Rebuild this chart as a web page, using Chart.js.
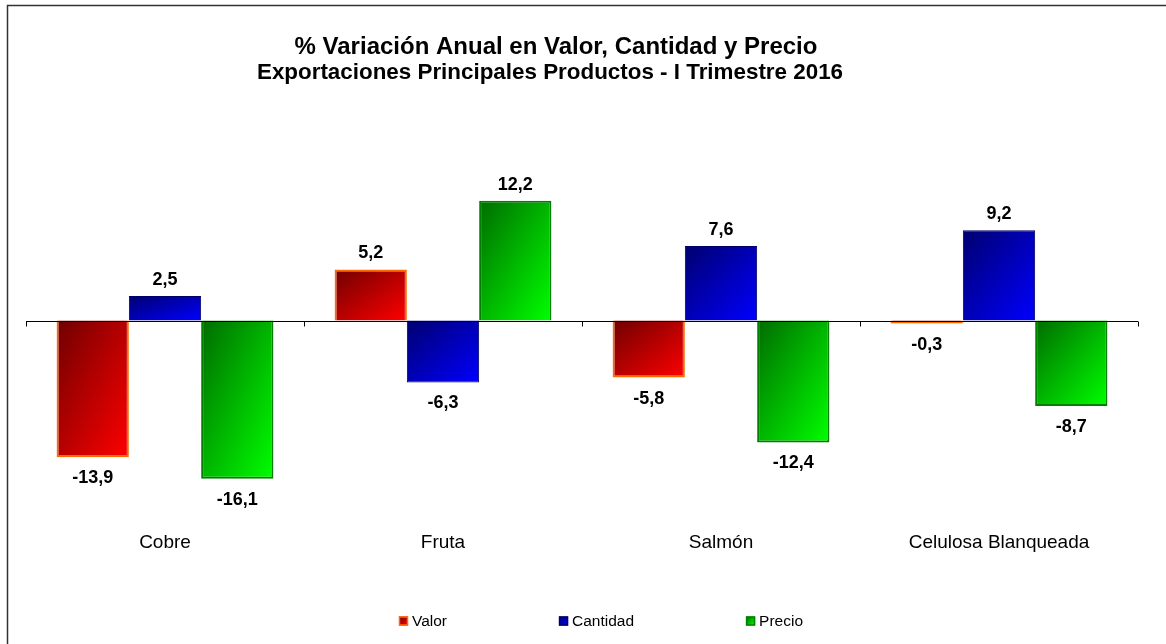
<!DOCTYPE html>
<html>
<head>
<meta charset="utf-8">
<script src="https://cdn.jsdelivr.net/npm/chart.js@4"></script>
<style>
  html, body { margin: 0; padding: 0; background: #fff; }
  #wrap { width: 1166px; height: 644px; position: relative; }
</style>
</head>
<body>
<div id="wrap"><canvas id="chart" width="1166" height="644"></canvas></div>
<script>
// data
const categories = ["Cobre", "Fruta", "Salmón", "Celulosa Blanqueada"];
const valor = [-13.9, 5.2, -5.8, -0.3];
const cantidad = [2.5, -6.3, 7.6, 9.2];
const precio = [-16.1, 12.2, -12.4, -8.7];
const seriesNames = ["Valor", "Cantidad", "Precio"];
const titleText = "% Variación Anual en Valor, Cantidad y Precio";
const subtitleText = "Exportaciones Principales Productos - I Trimestre 2016";

// dark -> bright gradient stops and border per series
const palette = [
  { dark: "#700000", bright: "#ff0000", border: "#ff6a00" },
  { dark: "#000070", bright: "#0000ff", border: "#000066" },
  { dark: "#006c00", bright: "#00ff00", border: "#008000" }
];

const fmt = v => v.toFixed(1).replace(".", ",");

// diagonal gradient stretched to the shape: top-left dark, bottom-right bright,
// the other two corners half way
function diagGradient(ctx, left, top, w, h, p) {
  const k = 2 * w * h / (w * w + h * h);
  const g = ctx.createLinearGradient(left, top, left + h * k, top + w * k);
  g.addColorStop(0, p.dark);
  g.addColorStop(1, p.bright);
  return g;
}

const gradientBars = {
  id: "gradientBars",
  beforeDatasetsDraw(chart) {
    const ctx = chart.ctx;
    chart.data.datasets.forEach((ds, i) => {
      chart.getDatasetMeta(i).data.forEach(bar => {
        const left = bar.x - bar.width / 2;
        const top = Math.min(bar.y, bar.base);
        const h = Math.max(Math.abs(bar.base - bar.y), 1);
        bar.options.backgroundColor = diagGradient(ctx, left, top, bar.width, h, palette[i]);
      });
    });
  }
};

// zero line, category tick marks, value labels, titles, legend and frame
const decorations = {
  id: "decorations",
  afterDatasetsDraw(chart) {
    const ctx = chart.ctx;
    const area = chart.chartArea;
    const y0 = Math.round(chart.scales.y.getPixelForValue(0)) + 0.5;
    ctx.save();
    ctx.strokeStyle = "#000";
    ctx.lineWidth = 1;
    ctx.beginPath();
    ctx.moveTo(area.left, y0);
    ctx.lineTo(area.right, y0);
    const step = (area.right - area.left) / categories.length;
    for (let k = 0; k <= categories.length; k++) {
      const x = Math.round(area.left + k * step) + 0.5;
      ctx.moveTo(x, y0);
      ctx.lineTo(x, y0 + 5);
    }
    ctx.stroke();

    ctx.fillStyle = "#000";
    ctx.font = "bold 18px Arial, 'Liberation Sans', sans-serif";
    ctx.textAlign = "center";
    ctx.textBaseline = "middle";
    chart.data.datasets.forEach((ds, i) => {
      chart.getDatasetMeta(i).data.forEach((bar, j) => {
        const v = ds.data[j];
        const y = v >= 0 ? bar.y - 16 : bar.y + 21;
        ctx.fillText(fmt(v), bar.x, y);
      });
    });
    ctx.restore();
  },
  afterDraw(chart) {
    const ctx = chart.ctx;
    ctx.save();
    // outer frame (runs off the right and bottom edges like the reference)
    ctx.strokeStyle = "#333";
    ctx.lineWidth = 1.5;
    ctx.beginPath();
    ctx.moveTo(7.5, 644);
    ctx.lineTo(7.5, 5.5);
    ctx.lineTo(1166, 5.5);
    ctx.stroke();

    // titles
    ctx.fillStyle = "#000";
    ctx.textAlign = "center";
    ctx.textBaseline = "middle";
    ctx.font = "bold 24px Arial, 'Liberation Sans', sans-serif";
    ctx.fillText(titleText, 556, 47);
    ctx.font = "bold 22.4px Arial, 'Liberation Sans', sans-serif";
    ctx.fillText(subtitleText, 550, 73);

    // legend
    ctx.font = "15.5px Arial, 'Liberation Sans', sans-serif";
    const box = 9, gap = 4, pad = 112, ly = 621;
    let x = 399;
    seriesNames.forEach((n, i) => {
      const p = palette[i];
      ctx.fillStyle = diagGradient(ctx, x, ly - box / 2, box, box, p);
      ctx.fillRect(x, ly - box / 2, box, box);
      ctx.strokeStyle = p.border;
      ctx.lineWidth = 1.5;
      ctx.strokeRect(x + 0.5, ly - box / 2 + 0.5, box - 1, box - 1);
      ctx.fillStyle = "#000";
      ctx.textAlign = "left";
      ctx.fillText(n, x + box + gap, ly + 1);
      x += box + gap + ctx.measureText(n).width + pad;
    });
    ctx.restore();
  }
};

new Chart(document.getElementById("chart"), {
  type: "bar",
  data: {
    labels: categories,
    datasets: [
      { label: seriesNames[0], data: valor, borderColor: palette[0].border, borderWidth: 2 },
      { label: seriesNames[1], data: cantidad, borderColor: palette[1].border, borderWidth: 1 },
      { label: seriesNames[2], data: precio, borderColor: palette[2].border, borderWidth: 2 }
    ]
  },
  options: {
    responsive: false,
    animation: false,
    layout: { padding: { left: 26, right: 28, top: 124, bottom: 76 } },
    datasets: {
      bar: {
        categoryPercentage: 0.78,
        barPercentage: 1,
        // scriptable so every bar gets its own options object for its gradient
        backgroundColor: c => palette[c.datasetIndex].dark
      }
    },
    plugins: {
      legend: { display: false },
      tooltip: { enabled: false }
    },
    scales: {
      x: {
        grid: { display: false, drawTicks: false },
        border: { display: false },
        ticks: {
          color: "#000",
          padding: 14,
          font: { family: "Arial, 'Liberation Sans', sans-serif", size: 19 }
        }
      },
      y: { display: false, min: -20, max: 20 }
    }
  },
  plugins: [gradientBars, decorations]
});
</script>
</body>
</html>
